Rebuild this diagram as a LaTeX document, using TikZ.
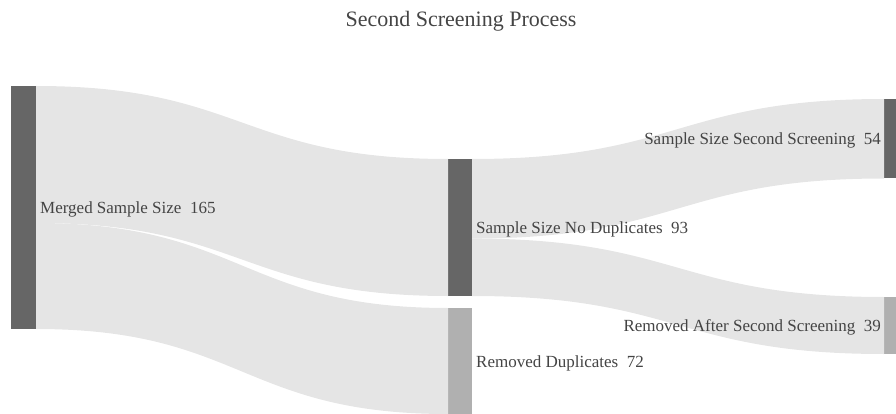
\documentclass[tikz,border=0pt]{standalone}
\usepackage{fontspec}
\setmainfont{Liberation Serif}
\usetikzlibrary{positioning,calc}
\definecolor{nodedark}{HTML}{666666}
\definecolor{nodelight}{HTML}{B0B0B0}
\definecolor{linkgray}{HTML}{E5E5E5}
\definecolor{textgray}{HTML}{444444}
\begin{document}
\begin{tikzpicture}[x=1pt,y=-1pt,
    bar/.style={fill=nodedark,inner sep=0pt,outer sep=0pt,anchor=north west},
    lbl/.style={text=textgray,font=\fontsize{17}{17}\selectfont,inner sep=0pt,yshift=-2pt},
    link/.style={fill=linkgray}]
  \useasboundingbox (0,0) rectangle (896,414);
  \node[lbl,font=\fontsize{22}{22}\selectfont] (title) at (461,19) {Second Screening Process};
  % nodes
  \node[bar,minimum width=25pt,minimum height=243pt] (merged) at (11,86) {};
  \node[bar,minimum width=24pt,minimum height=137pt] (nodup) at (448,159) {};
  \node[bar,fill=nodelight,minimum width=24pt,minimum height=106pt] (removed) at (448,308) {};
  \node[bar,minimum width=12pt,minimum height=79.5pt] (secscr) at (884,99) {};
  \node[bar,fill=nodelight,minimum width=12pt,minimum height=57pt] (rmscr) at (884,297) {};
  \coordinate (msplit) at ($(merged.north east)!137/243!(merged.south east)$);
  \coordinate (nsplit) at ($(nodup.north east)!54/93!(nodup.south east)$);
  % links
  \begin{scope}[link]
    \fill (merged.north east) .. controls +(206,0) and +(-206,0) .. (nodup.north west)
      -- (nodup.south west) .. controls +(-206,0) and +(206,0) .. (msplit) -- cycle;
    \fill (msplit) .. controls +(206,0) and +(-206,0) .. (removed.north west)
      -- (removed.south west) .. controls +(-206,0) and +(206,0) .. (merged.south east) -- cycle;
    \fill (nodup.north east) .. controls +(206,0) and +(-206,0) .. (secscr.north west)
      -- (secscr.south west) .. controls +(-206,0) and +(206,0) .. (nsplit) -- cycle;
    \fill (nsplit) .. controls +(206,0) and +(-206,0) .. (rmscr.north west)
      -- (rmscr.south west) .. controls +(-206,0) and +(206,0) .. (nodup.south east) -- cycle;
  \end{scope}
  % labels
  \node[lbl,right=4pt of merged] (mergedlbl) {Merged Sample Size\ \ 165};
  \node[lbl,right=4pt of nodup] (noduplbl) {Sample Size No Duplicates\ \ 93};
  \node[lbl,right=4pt of removed] (removedlbl) {Removed Duplicates\ \ 72};
  \node[lbl,left=3pt of secscr] (secscrlbl) {Sample Size Second Screening\ \ 54};
  \node[lbl,left=3pt of rmscr] (rmscrlbl) {Removed After Second Screening\ \ 39};
\end{tikzpicture}
\end{document}
